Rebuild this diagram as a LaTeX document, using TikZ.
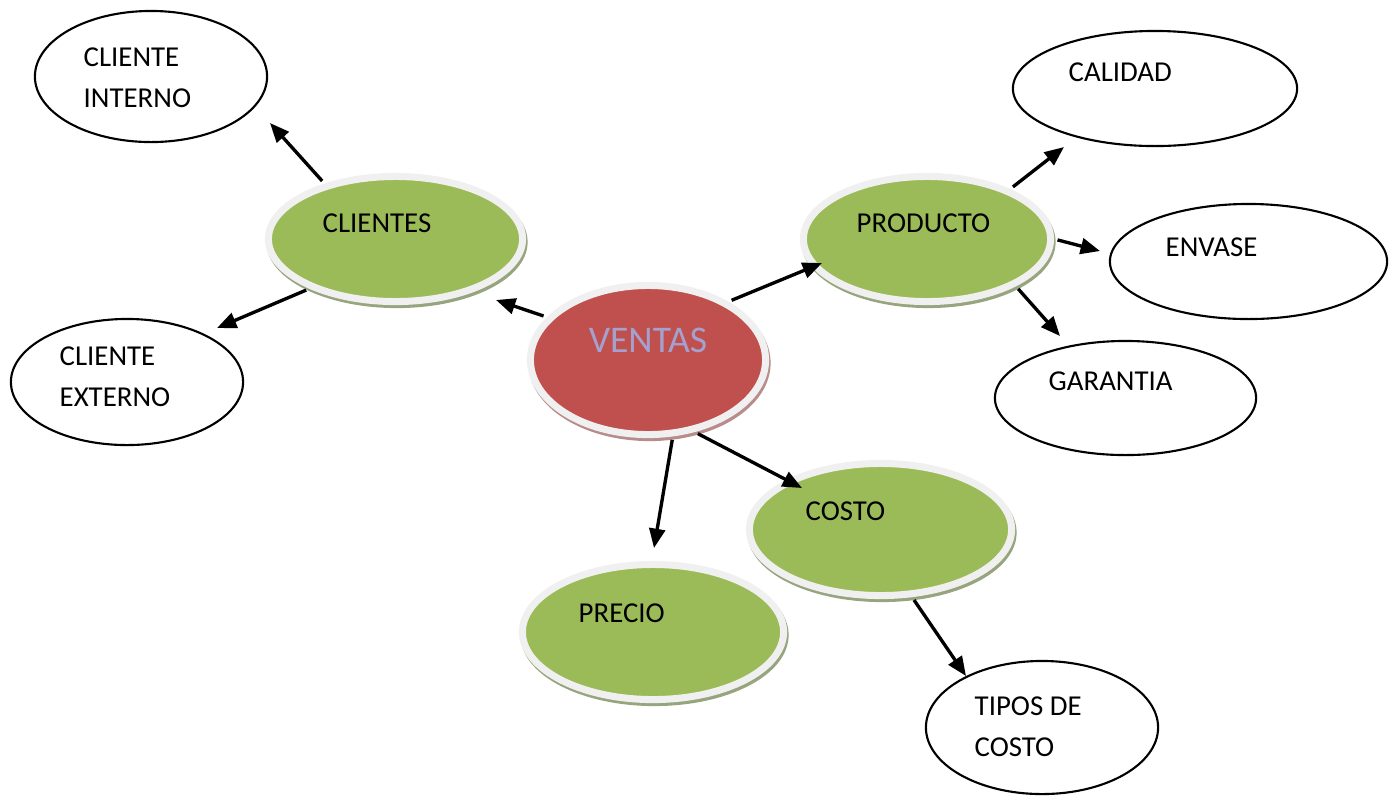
\documentclass[tikz,border=0pt]{standalone}
\usepackage{fontspec}
\setmainfont{Carlito}
\usetikzlibrary{shapes.geometric,arrows.meta}
\definecolor{olive}{RGB}{155,187,89}
\definecolor{brick}{RGB}{192,80,77}
\definecolor{ring}{RGB}{240,240,240}
\definecolor{oliveshade}{RGB}{150,165,125}
\definecolor{brickshade}{RGB}{185,140,140}
\definecolor{lavender}{RGB}{165,160,205}
\begin{document}
\begin{tikzpicture}[x=0.01cm,y=-0.01cm,
  oval/.style 2 args={ellipse, inner sep=0pt, minimum width=#1*0.02cm, minimum height=#2*0.02cm},
  leaf/.style={draw=black, line width=0.6pt, fill=white},
  bubble/.style 2 args={fill=#1, draw=ring, line width=2pt,
    preaction={draw=#2, fill=#2, line width=2pt, transform canvas={shift={(1.5,3)}}}},
  lbl/.style={anchor=base west, inner sep=0pt, align=left, font=\fontsize{8.2}{11.8}\selectfont},
  link/.style={-{Triangle[length=5.5pt,width=4.5pt]}, line width=0.95pt, shorten <=1pt}]
\useasboundingbox (0,0) rectangle (1397,799);

% outer concepts
\node[oval={116}{65.5}, leaf] (cint) at (151,76.5) {};
\node[oval={116}{63}, leaf] (cext) at (127,382) {};
\node[oval={142}{57.5}, leaf] (calidad) at (1155,88.5) {};
\node[oval={138.5}{57.5}, leaf] (envase) at (1248.5,261.5) {};
\node[oval={130.5}{57}, leaf] (garantia) at (1125.5,398) {};
\node[oval={116}{66.5}, leaf] (tipos) at (1042,727.5) {};

% main concepts
\node[oval={127}{62.5}, bubble={olive}{oliveshade}] (clientes) at (395.5,239) {};
\node[oval={123.5}{62.5}, bubble={olive}{oliveshade}] (producto) at (927,239) {};
\node[oval={117.5}{74.5}, bubble={brick}{brickshade}] (ventas) at (648,360) {};
\node[oval={131}{66}, bubble={olive}{oliveshade}] (costo) at (880.5,529.5) {};
\node[oval={130.5}{67.5}, bubble={olive}{oliveshade}] (precio) at (653,632) {};

% texts (multi-line labels are anchored at the baseline of their last line)
\node[lbl] (tcint) at (83,107.5) {CLIENTE\\INTERNO};
\node[lbl] (tcext) at (59,406.5) {CLIENTE\\EXTERNO};
\node[lbl] (tcalidad) at (1068,81) {CALIDAD};
\node[lbl] (tenvase) at (1165,256) {ENVASE};
\node[lbl] (tgarantia) at (1048,390) {GARANTIA};
\node[lbl] (ttipos) at (974,756.5) {TIPOS DE\\COSTO};
\node[lbl] (tclientes) at (322,232) {CLIENTES};
\node[lbl] (tproducto) at (856,232) {PRODUCTO};
\node[lbl] (tcosto) at (805,520) {COSTO};
\node[lbl] (tprecio) at (578,622) {PRECIO};
\node[anchor=base, inner sep=0pt, text=lavender, font=\fontsize{10.7}{12.5}\selectfont] (tventas) at (648,352) {VENTAS};

% arrow tips
\coordinate (pcint) at (270,123);
\coordinate (pcext) at (217,328);
\coordinate (pclientes) at (496,300);
\coordinate (pproducto) at (822,263);
\coordinate (pcalidad) at (1064,147);
\coordinate (penvase) at (1100,251);
\coordinate (pgarantia) at (1060,336);
\coordinate (pcosto) at (802,488);
\coordinate (pprecio) at (654,548);
\coordinate (ptipos) at (966,676);

% connectors
\draw[link] (clientes.142) -- (pcint);
\draw[link] (clientes.210.6) -- (pcext);
\draw[link] (ventas.157.8) -- (pclientes);
\draw[link] (ventas.36.5) -- (pproducto);
\draw[link] (producto.31) -- (pcalidad);
\draw[link] (producto.-0.5) -- (penvase);
\draw[link] (producto.-28.1) -- (pgarantia);
\draw[link] (ventas.-57.2) -- (pcosto);
\draw[link] (ventas.-72.9) -- (pprecio);
\draw[link] (costo.-65.9) -- (ptipos);
\end{tikzpicture}
\end{document}
